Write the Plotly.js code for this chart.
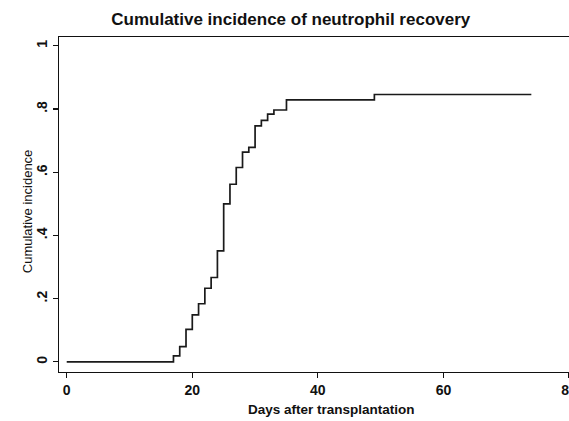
<!DOCTYPE html>
<html>
<head>
<meta charset="utf-8">
<script src="https://cdn.plot.ly/plotly-3.0.1.min.js"></script>
<style>html,body{margin:0;padding:0;background:#fff}#chart{width:569px;height:421px}</style>
</head>
<body>
<div id="chart"></div>
<script>
// Days after transplantation (step positions) and cumulative incidence
const days = [0, 17, 18, 19, 20, 21, 22, 23, 24, 25, 26, 27, 28, 29, 30, 31, 32, 33, 35, 49, 74];
const incidence = [0, 0.019, 0.048, 0.103, 0.149, 0.184, 0.233, 0.267, 0.351, 0.5, 0.562, 0.615, 0.664, 0.679, 0.747, 0.764, 0.784, 0.797, 0.829, 0.846, 0.846];
const xTicks = [0, 20, 40, 60, 80];
const yTicks = [0, 0.2, 0.4, 0.6, 0.8, 1];
const yTickText = ['0', '.2', '.4', '.6', '.8', '1'];

const font = 'Liberation Sans, Arial, sans-serif';
Plotly.newPlot('chart', [{
  x: days, y: incidence, type: 'scatter', mode: 'lines',
  line: {shape: 'hv', color: '#1a1a1a', width: 1.7},
  hoverinfo: 'skip'
}], {
  width: 569, height: 421,
  margin: {l: 59, r: 0, t: 37, b: 49},
  paper_bgcolor: '#fff', plot_bgcolor: '#fff',
  showlegend: false,
  title: {text: '<b>Cumulative incidence of neutrophil recovery</b>', x: 0.511, xanchor: 'center', y: 0.955, yanchor: 'middle',
          font: {family: font, size: 17, color: '#111'}},
  xaxis: {range: [-1.23, 80], tickvals: xTicks, ticktext: xTicks.map(String),
          ticks: 'outside', ticklen: 5, tickwidth: 1.2, tickcolor: '#111',
          showline: true, linecolor: '#111', linewidth: 1.2, mirror: true,
          showgrid: false, zeroline: false, ticklabeloverflow: 'allow',
          tickfont: {family: font, size: 14, color: '#111', weight: 'bold'}},
  yaxis: {range: [-0.032, 1.028], tickvals: yTicks, ticktext: yTickText, tickangle: -90,
          ticks: 'outside', ticklen: 5, tickwidth: 1.2, tickcolor: '#111',
          showline: true, linecolor: '#111', linewidth: 1.2, mirror: true,
          showgrid: false, zeroline: false,
          tickfont: {family: font, size: 14, color: '#111', weight: 'bold'}},
  annotations: [
    {text: '<b>Days after transplantation</b>', xref: 'paper', yref: 'paper', x: 0.535, y: -0.113,
     xanchor: 'center', yanchor: 'middle', showarrow: false, font: {family: font, size: 13.5, color: '#111'}},
    {text: 'Cumulative incidence', xref: 'paper', yref: 'paper', x: -0.0627, y: 0.48, textangle: -90,
     xanchor: 'center', yanchor: 'middle', showarrow: false, font: {family: font, size: 13, color: '#111'}}
  ]
}, {displayModeBar: false, staticPlot: true});
</script>
</body>
</html>
